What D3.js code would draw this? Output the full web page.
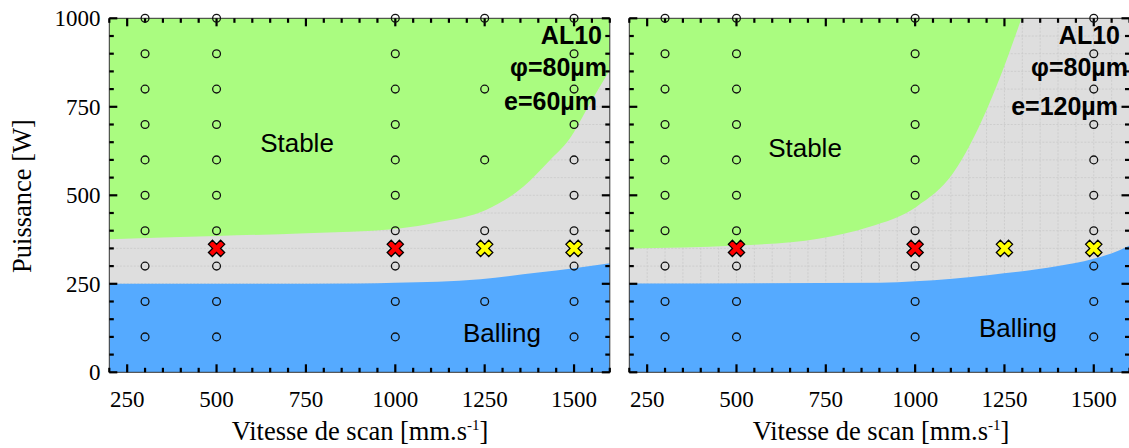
<!DOCTYPE html>
<html><head><meta charset="utf-8">
<script src="https://cdn.jsdelivr.net/npm/d3@7"></script>
<style>body{margin:0;background:#fff}svg{display:block}</style>
</head><body>
<svg id="c" width="1129" height="448"></svg>
<script>
// ---- data ----
const xTicksMajor = [250, 500, 750, 1000, 1250, 1500];
const yTicksMajor = [0, 250, 500, 750, 1000];

// left panel (e=60µm)
const leftCols = [300, 500, 1000, 1250, 1500];
const leftPowers = [
  [100, 200, 300, 400, 500, 600, 700, 800, 900, 1000],
  [100, 200, 300, 400, 500, 600, 700, 800, 900, 1000],
  [100, 200, 300, 400, 500, 600, 700, 800, 900, 1000],
  [200, 400, 600, 800, 1000],
  [100, 200, 300, 400, 500, 600, 700, 800, 900, 1000]
];
const leftRedX = [500, 1000];
const leftYellowX = [1250, 1500];
const leftCrossP = 350;
const stableLeftX = [200, 500, 750, 1000, 1126, 1252, 1358, 1433, 1485, 1545, 1600];
const stableLeftP = [376, 385, 393, 405, 425, 458, 524, 600, 656, 760, 854];
const ballingLeftX = [200, 900, 1000, 1238, 1400, 1500, 1600];
const ballingLeftP = [250, 251, 253, 263, 282, 294, 308];

// right panel (e=120µm)
const rightCols = [300, 500, 1000, 1500];
const rightPowers = [
  [100, 200, 300, 400, 500, 600, 700, 800, 900, 1000],
  [100, 200, 300, 400, 500, 600, 700, 800, 900, 1000],
  [100, 200, 300, 400, 500, 600, 700, 800, 900, 1000],
  [100, 200, 300, 400, 500, 600, 700, 800, 900, 1000]
];
const rightRedX = [500, 1000];
const rightYellowX = [1250, 1500];
const rightCrossP = 350;
const stableRightX = [200, 500, 733, 873, 1004, 1106, 1200, 1256, 1298, 1320];
const stableRightP = [350, 358, 378, 411, 468, 562, 741, 882, 1000, 1060];
const ballingRightX = [200, 901, 1000, 1209, 1400, 1497, 1572, 1600];
const ballingRightP = [251, 253, 257, 275, 300, 320, 345, 358];

const panels = [
  {x0: 109.3, x1: 609.8, cols: leftCols, powers: leftPowers, red: leftRedX, yellow: leftYellowX, crossP: leftCrossP,
   sX: stableLeftX, sP: stableLeftP, bX: ballingLeftX, bP: ballingLeftP, vgrid: false, yLabels: true,
   lines: [{t: "AL10", x: 602, y: 43.5}, {t: "φ=80µm", x: 607, y: 75.5}, {t: "e=60µm", x: 597, y: 110}],
   stable: [297, 151.5], balling: [502, 342], title: 360},
  {x0: 629.3, x1: 1129.5, cols: rightCols, powers: rightPowers, red: rightRedX, yellow: rightYellowX, crossP: rightCrossP,
   sX: stableRightX, sP: stableRightP, bX: ballingRightX, bP: ballingRightP, vgrid: true, yLabels: false,
   lines: [{t: "AL10", x: 1120, y: 43.5}, {t: "φ=80µm", x: 1128, y: 75.5}, {t: "e=120µm", x: 1118, y: 115}],
   stable: [805, 157], balling: [1018, 337], title: 881}
];

const GREEN = "#aafc80", BLUE = "#55aaff", GRAY = "#dedede";
const svg = d3.select("#c");
const y = d3.scaleLinear().domain([0, 1000]).range([372.3, 18.3]);
const minor = d3.range(200, 1601, 50);
const minorY = d3.range(0, 1001, 50);

panels.forEach((p, i) => {
  const x = d3.scaleLinear().domain([200, 1600]).range([p.x0, p.x1]);
  const g = svg.append("g");
  const cid = "clip" + i;
  svg.append("clipPath").attr("id", cid).append("rect")
    .attr("x", p.x0).attr("y", y(1000)).attr("width", p.x1 - p.x0).attr("height", y(0) - y(1000));

  g.append("rect").attr("x", p.x0).attr("y", y(1000)).attr("width", p.x1 - p.x0).attr("height", y(0) - y(1000)).attr("fill", GRAY);

  // grid
  const grid = g.append("g").attr("stroke", "#c9c9c9").attr("stroke-width", 0.8).attr("stroke-dasharray", "2,1.5");
  grid.selectAll("line.h").data(minorY.slice(1, -1)).join("line")
    .attr("x1", p.x0).attr("x2", p.x1).attr("y1", d => y(d)).attr("y2", d => y(d));
  if (p.vgrid) {
    grid.selectAll("line.v").data(minor.slice(1, -1)).join("line")
      .attr("x1", d => x(d)).attr("x2", d => x(d)).attr("y1", y(0)).attr("y2", y(1000));
  }

  const sData = p.sX.map((v, k) => [v, p.sP[k]]);
  const bData = p.bX.map((v, k) => [v, p.bP[k]]);
  const areaS = d3.area().x(d => x(d[0])).y0(y(1000) - 10).y1(d => y(d[1])).curve(d3.curveMonotoneX);
  const areaB = d3.area().x(d => x(d[0])).y0(y(0)).y1(d => y(d[1])).curve(d3.curveMonotoneX);
  const fills = g.append("g").attr("clip-path", `url(#${cid})`);
  fills.append("path").datum(sData).attr("d", areaS).attr("fill", GREEN);
  fills.append("path").datum(bData).attr("d", areaB).attr("fill", BLUE);

  // region labels
  g.append("text").attr("x", p.stable[0]).attr("y", p.stable[1]).attr("text-anchor", "middle")
    .attr("font-family", "Liberation Sans, Arial, sans-serif").attr("font-size", 26).text("Stable");
  g.append("text").attr("x", p.balling[0]).attr("y", p.balling[1]).attr("text-anchor", "middle")
    .attr("font-family", "Liberation Sans, Arial, sans-serif").attr("font-size", 26).text("Balling");

  // frame
  g.append("rect").attr("x", p.x0).attr("y", y(1000)).attr("width", p.x1 - p.x0).attr("height", y(0) - y(1000))
    .attr("fill", "none").attr("stroke", "#333").attr("stroke-width", 1);

  // ticks
  const tk = g.append("g").attr("stroke", "#000").attr("stroke-width", 2.2);
  minor.forEach(v => {
    const L = xTicksMajor.includes(v) ? 8 : 4.5;
    tk.append("line").attr("x1", x(v)).attr("x2", x(v)).attr("y1", y(0)).attr("y2", y(0) - L);
    tk.append("line").attr("x1", x(v)).attr("x2", x(v)).attr("y1", y(1000)).attr("y2", y(1000) + L);
  });
  minorY.forEach(v => {
    const L = yTicksMajor.includes(v) ? 8 : 4.5;
    tk.append("line").attr("x1", p.x0).attr("x2", p.x0 + L).attr("y1", y(v)).attr("y2", y(v));
    tk.append("line").attr("x1", p.x1).attr("x2", p.x1 - L).attr("y1", y(v)).attr("y2", y(v));
  });

  // tick labels
  const serif = "Liberation Serif, Times New Roman, serif";
  g.selectAll("text.xt").data(xTicksMajor).join("text").attr("class", "xt")
    .attr("x", d => x(d)).attr("y", 406.5).attr("text-anchor", "middle")
    .attr("font-family", serif).attr("font-size", 23).text(d => d);
  if (p.yLabels) {
    g.selectAll("text.yt").data(yTicksMajor).join("text").attr("class", "yt")
      .attr("x", 100.5).attr("y", d => y(d) + 8).attr("text-anchor", "end")
      .attr("font-family", serif).attr("font-size", 23).text(d => d);
    g.append("text").attr("transform", `translate(31,196) rotate(-90)`).attr("text-anchor", "middle")
      .attr("font-family", serif).attr("font-size", 26.5).text("Puissance [W]");
  }
  const tt = g.append("text").attr("x", p.title).attr("y", 440).attr("text-anchor", "middle")
    .attr("font-family", serif).attr("font-size", 26.5);
  tt.append("tspan").text("Vitesse de scan [mm.s");
  tt.append("tspan").attr("font-size", 15).attr("dy", -10).text("-1");
  tt.append("tspan").attr("dy", 10).text("]");

  // circles
  const pts = [];
  p.cols.forEach((c, k) => p.powers[k].forEach(w => pts.push([c, w])));
  g.selectAll("circle.pt").data(pts).join("circle").attr("class", "pt")
    .attr("cx", d => x(d[0])).attr("cy", d => y(d[1])).attr("r", 3.9)
    .attr("fill", "none").attr("stroke", "#111").attr("stroke-width", 1.3);

  // crosses
  const sym = d3.symbol(d3.symbolCross, 165);
  const crosses = p.red.map(v => [v, p.crossP, "#ff0000"]).concat(p.yellow.map(v => [v, p.crossP, "#ffff00"]));
  g.selectAll("path.cx").data(crosses).join("path").attr("class", "cx")
    .attr("d", sym).attr("transform", d => `translate(${x(d[0])},${y(d[1])}) rotate(45)`)
    .attr("fill", d => d[2]).attr("stroke", "#000").attr("stroke-width", 1.3);

  // annotation
  g.selectAll("text.an").data(p.lines).join("text").attr("class", "an")
    .attr("x", d => d.x).attr("y", d => d.y).attr("text-anchor", "end")
    .attr("font-family", "Liberation Sans, Arial, sans-serif").attr("font-weight", "bold").attr("font-size", 25)
    .text(d => d.t);
});
</script>
</body></html>
